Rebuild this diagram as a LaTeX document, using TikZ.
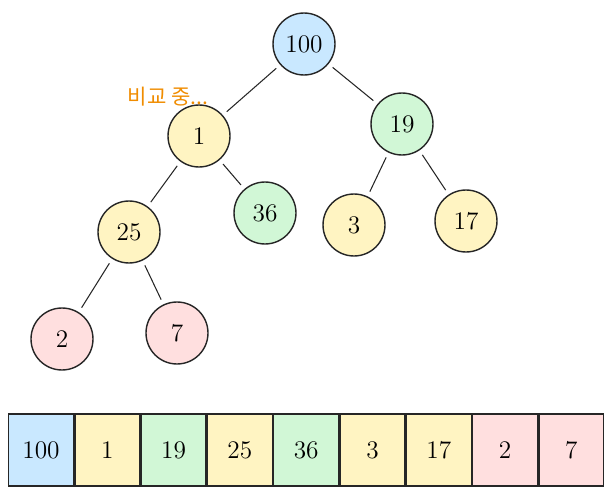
\documentclass[tikz,border=0pt]{standalone}
\usepackage{fontspec}
\newfontfamily\kofont{Noto Sans CJK KR}
\usetikzlibrary{positioning}
\definecolor{hblue}{RGB}{165,216,255}
\definecolor{hyellow}{RGB}{255,236,153}
\definecolor{hgreen}{RGB}{178,242,187}
\definecolor{hred}{RGB}{255,201,201}
\definecolor{horange}{RGB}{240,140,0}

\begin{document}
\begin{tikzpicture}[x=0.02cm,y=-0.02cm,
  heap/.style={circle,draw=black!85,thick,minimum size=1.24cm,inner sep=0pt,font=\Large},
  cell/.style={rectangle,draw=black!85,thick,minimum width=1.298cm,minimum height=1.44cm,
               inner sep=0pt,font=\Large},
  edge/.style={black!85,semithick,shorten <=3pt,shorten >=3pt}
]
\useasboundingbox (0,0) rectangle (612,500);
% tree
\node[heap,fill=hblue!60]   (n100) at (304,44)  {100};
\node[heap,fill=hyellow!60] (n1)   at (199,136) {1};
\node[heap,fill=hgreen!60]  (n19)  at (402,124) {19};
\node[heap,fill=hyellow!60] (n25)  at (129,232) {25};
\node[heap,fill=hgreen!60]  (n36)  at (265,213) {36};
\node[heap,fill=hyellow!60] (n3)   at (354,225) {3};
\node[heap,fill=hyellow!60] (n17)  at (466,221) {17};
\node[heap,fill=hred!60]    (n2)   at (62,339)  {2};
\node[heap,fill=hred!60]    (n7)   at (177,333) {7};
\draw[edge] (n100)--(n1);
\draw[edge] (n100)--(n19);
\draw[edge] (n1)--(n25);
\draw[edge] (n1)--(n36);
\draw[edge] (n19)--(n3);
\draw[edge] (n19)--(n17);
\draw[edge] (n25)--(n2);
\draw[edge] (n25)--(n7);
\node[font=\kofont\large,text=horange,inner sep=1pt] (cmp) at (168,97) {비교 중...};
% array
\node[cell,fill=hblue!60]   (a1) at (41,450)  {100};
\node[cell,fill=hyellow!60,right=0pt of a1] (a2) {1};
\node[cell,fill=hgreen!60,right=0pt of a2]  (a3) {19};
\node[cell,fill=hyellow!60,right=0pt of a3] (a4) {25};
\node[cell,fill=hgreen!60,right=0pt of a4]  (a5) {36};
\node[cell,fill=hyellow!60,right=0pt of a5] (a6) {3};
\node[cell,fill=hyellow!60,right=0pt of a6] (a7) {17};
\node[cell,fill=hred!60,right=0pt of a7]    (a8) {2};
\node[cell,fill=hred!60,right=0pt of a8]    (a9) {7};
\end{tikzpicture}
\end{document}
